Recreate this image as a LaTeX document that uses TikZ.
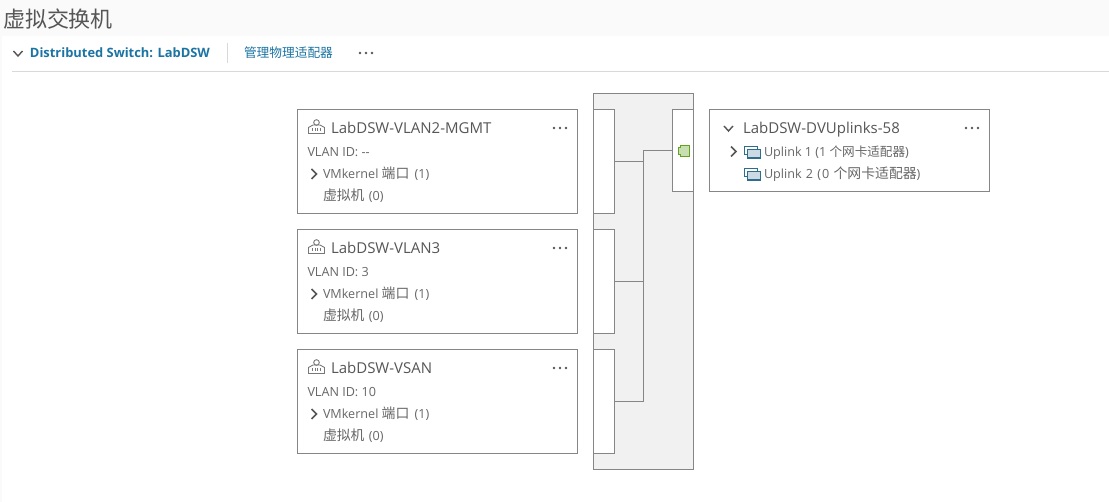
\documentclass[tikz,border=0pt]{standalone}
\usepackage{fontspec}
\setmainfont{Open Sans}
\newfontfamily\cjk{Noto Sans CJK SC}
\newfontfamily\cjkp[Scale=1.1]{Noto Sans CJK SC}
\newcommand{\cn}[1]{{\cjk #1}}
\newcommand{\cnp}[1]{{\cjkp #1}}
\definecolor{trait}{HTML}{868686}
\definecolor{fond}{HTML}{F1F1F1}
\definecolor{texte}{HTML}{565656}
\definecolor{lien}{HTML}{1B74A3}
\definecolor{bleuicone}{HTML}{2F6D8F}
\definecolor{vert}{HTML}{62A420}
\tikzset{
  carte/.style = {draw=trait, fill=white, line width = 1.2pt, rectangle, anchor = north west, inner sep = 0, outer sep = 0, minimum width = 280pt},
  talon/.style = {draw=trait, fill=white, line width = 1.2pt, rectangle, anchor = north west, inner sep = 0, outer sep = 0, minimum width = 21pt},
  filaire/.style = {draw=trait, line width = 1.2pt},
  etiq/.style = {anchor = base west, inner sep = 0, outer sep = 0, text = texte},
  grand/.style = {etiq, font = \fontsize{15}{15}\selectfont},
  petit/.style = {etiq, font = \fontsize{12.6}{12.6}\selectfont, text = texte!90}
}
\newcommand{\points}[2]{
  \foreach \d in {-6,0,6}
    \fill[texte] (#1+\d,#2) circle (1.4pt);
}
\newcommand{\chevronb}[2]{\draw[texte, line width = 1.4pt] (#1-4.5,#2-2.5) -- (#1,#2+2.5) -- (#1+4.5,#2-2.5);}
\newcommand{\chevrond}[2]{\draw[texte, line width = 1.6pt] (#1-2.5,#2-5) -- (#1+2.5,#2) -- (#1-2.5,#2+5);}
\newcommand{\iconeup}[2]{
  \draw[bleuicone, fill=white, line width = 1.2pt] (#1,#2) rectangle (#1+13,#2+8);
  \draw[bleuicone, fill=bleuicone!25, line width = 1.2pt] (#1+3,#2+3) rectangle (#1+16,#2+11.5);
}
\newcommand{\iconepg}[2]{
  \draw[texte!80, line width = 0.9pt] (#1,#2+14) -- (#1+16,#2+14) -- (#1+16,#2+8) -- (#1+11.5,#2+5.5) -- (#1+4.5,#2+5.5) -- (#1,#2+8) -- cycle;
  \draw[texte!80, line width = 0.9pt] (#1+8,#2+3) circle (2.8pt);
  \foreach \k in {4,6.7,9.4,12}
    \draw[texte!80, line width = 0.9pt] (#1+\k,#2+9) -- (#1+\k,#2+12);
}
\begin{document}
\begin{tikzpicture}[x = 1pt, y = -1pt]
  \useasboundingbox (0,0) rectangle (1109,502);
  % dessiner le fond
  \fill[fill=black!2] (0,0) rectangle (1109,502);
  \fill[fill=white] (2,36) rectangle (1109,502);

  % dessiner l'en-tete
  \node[etiq, text=texte, font=\fontsize{22}{22}\selectfont] (titre) at (3,28) {\cn{虚拟交换机}};
  \chevronb{18}{53.5}
  \node[etiq, text=lien, font=\fontsize{12.9}{12.9}\selectfont\bfseries] (switch) at (30,57.5) {Distributed Switch: LabDSW};
  \node[etiq, text=lien, font=\fontsize{12.7}{12.7}\selectfont] (gerer) at (244,58) {\cn{管理物理适配器}};
  \points{366}{53}
  \coordinate (sepa) at (227.5,43);
  \coordinate (sepb) at (227.5,63);
  \draw[black!15, line width = 1pt] (sepa) -- (sepb);
  \coordinate (bara) at (12,71.5);
  \coordinate (barb) at (1109,71.5);
  \draw[black!15, line width = 1pt] (bara) -- (barb);

  % dessiner le panneau central
  \node[draw=trait, fill=fond, line width = 1.2pt, rectangle, anchor = north west, inner sep = 0, outer sep = 0, minimum width = 100pt, minimum height = 376pt] (panneau) at (593.5,93.5) {};
  \node[talon, minimum height = 82pt, anchor = north east] (talond) at (693.5,109.5) {};
  \coordinate (bus) at (643.5,150.5);
  \draw[filaire] (talond.west) -- (bus);

  % dessiner les groupes de ports
  \foreach \i/\y/\nom/\vlan in {1/109.5/VLAN2-MGMT/-{}-, 2/229.5/VLAN3/3, 3/349.5/VSAN/10}
  {
    \node[carte, minimum height = 104pt] (carte\i) at (297.5,\y) {};
    \node[talon, minimum height = 104pt] (talon\i) at (593.5,\y) {};
    \draw[filaire] (talon\i.east) -| (bus);
    \iconepg{308.5}{\y+10}
    \node[grand] (nom\i) at (331,\y+24) {LabDSW-\nom};
    \points{560}{\y+18.5}
    \node[petit] (vlan\i) at (307.5,\y+47) {VLAN ID: \vlan};
    \chevrond{314}{\y+64.5}
    \node[petit] (vmk\i) at (323,\y+69) {VMkernel \cnp{端口}\kern2pt{} (1)};
    \node[petit] (vm\i) at (323,\y+91) {\cnp{虚拟机}\kern1pt{} (0)};
  }

  % dessiner la carte des liaisons
  \node[carte, minimum height = 82pt] (uplinks) at (709.5,109.5) {};
  \chevronb{728.5}{128.5}
  \node[grand] (nomu) at (743,133.5) {LabDSW-DVUplinks-58};
  \points{972}{128}
  \chevrond{733.5}{151.5}
  \iconeup{744.5}{146.5}
  \node[petit] (up1) at (764,156.5) {Uplink 1 (1 \cn{个网卡适配器})};
  \iconeup{744.5}{168.5}
  \node[petit] (up2) at (764,178.5) {Uplink\kern1pt{} 2\kern1pt{} (\kern1pt{}0\kern1pt{} \cnp{个网卡适配器})};

  % dessiner le port vert
  \draw[vert, fill=vert!35, line width = 1pt] (680.5,145.5) -- (689.5,145.5) -- (689.5,156.5) -- (680.5,156.5) -- (680.5,155) -- (678.5,155) -- (678.5,147.5) -- (680.5,147.5) -- cycle;
\end{tikzpicture}
\end{document}
